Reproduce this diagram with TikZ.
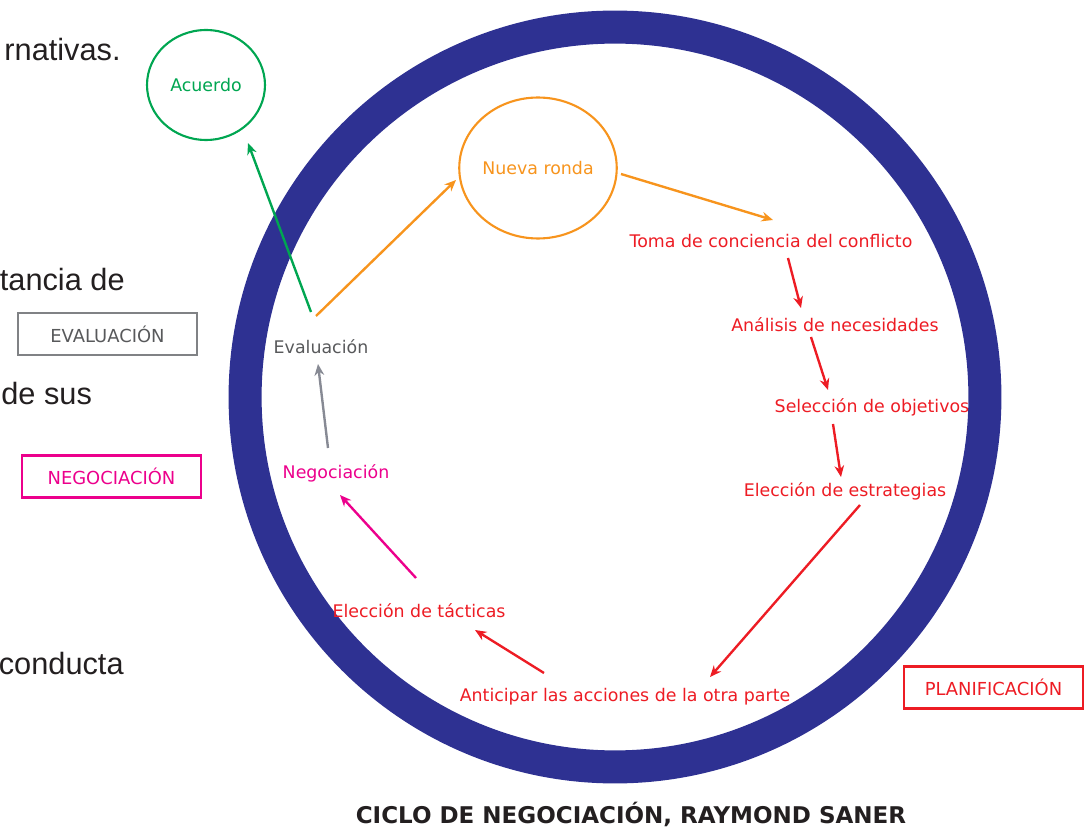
\documentclass[tikz,border=0pt]{standalone}
\usepackage{fontspec}
\setmainfont{DejaVu Sans}
\newfontfamily\slidefont{Liberation Sans}
\usepackage{tikz}
\usetikzlibrary{arrows.meta, calc, shapes.geometric}
\definecolor{ringblue}{HTML}{2E3192}
\definecolor{rondaorange}{HTML}{F7941D}
\definecolor{acuerdogreen}{HTML}{00A651}
\definecolor{planred}{HTML}{ED1C24}
\definecolor{negomagenta}{HTML}{EC008C}
\definecolor{evalgray}{HTML}{58595B}
\definecolor{arrowgray}{HTML}{878A94}
\definecolor{boxgray}{HTML}{808285}
\definecolor{darktext}{HTML}{231F20}
\tikzstyle{stage}    = [inner sep=0pt, font=\fontsize{9.9}{12}\selectfont]
\tikzstyle{roundel}  = [ellipse, draw, line width=1.2pt, inner sep=0pt, font=\fontsize{9.9}{12}\selectfont]
\tikzstyle{phasebox} = [rectangle, draw, line width=1.2pt, minimum width=3.58cm, minimum height=0.84cm, font=\fontsize{10.2}{12}\selectfont]
\tikzstyle{slidetext} = [inner sep=0pt, anchor=east, text=darktext, font=\slidefont\fontsize{17.5}{20}\selectfont]
\tikzstyle{arrow}    = [line width=1.35pt, -{Stealth[length=6.5pt, width=5.5pt]}]

\begin{document}
\begin{tikzpicture}[x=0.02cm, y=-0.02cm]
\useasboundingbox (0,0) rectangle (1086,827);
\clip (0,0) rectangle (1086,827);

% text of the slide behind the picture
\node (txta) [slidetext] at (121,50) {rnativas.};
\node (txtb) [slidetext] at (125,280) {tancia de};
\node (txtc) [slidetext, anchor=west] at (1,394) {de sus};
\node (txtd) [slidetext] at (124,664) {conducta};

% ring
\draw [ringblue, line width=18.8pt] (615,397) circle (7.4cm);

\node (acuerdo) [roundel, draw=acuerdogreen, text=acuerdogreen, minimum width=2.36cm, minimum height=2.2cm] at (206,85) {Acuerdo};
\node (nueva) [roundel, draw=rondaorange, text=rondaorange, minimum width=3.06cm, minimum height=2.82cm] at (538,168) {Nueva ronda};

\node (toma) [stage, text=planred] at (771,241) {Toma de conciencia del conflicto};
\node (analisis) [stage, text=planred] at (835,325) {Análisis de necesidades};
\node (seleccion) [stage, text=planred] at (872,407) {Selección de objetivos};
\node (estrategias) [stage, text=planred] at (845,491) {Elección de estrategias};
\node (anticipar) [stage, text=planred] at (625,697) {Anticipar las acciones de la otra parte};
\node (tacticas) [stage, text=planred] at (419,611) {Elección de tácticas};
\node (negociacion) [stage, text=negomagenta] at (336,473) {Negociación};
\node (evaluacion) [stage, text=evalgray] at (321,347) {Evaluación};

\node (evalbox) [phasebox, draw=boxgray, text=evalgray] at (107.5,334) {EVALUACIÓN};
\node (negobox) [phasebox, draw=negomagenta, text=negomagenta] at (111.5,476.5) {NEGOCIACIÓN};
\node (planbox) [phasebox, draw=planred, text=planred] at (993.5,687.5) {PLANIFICACIÓN};

\node (titulo) [inner sep=0pt, text=darktext, font=\bfseries\fontsize{13.1}{15}\selectfont] at (631,814) {CICLO DE NEGOCIACIÓN, RAYMOND SANER};

\draw [arrow, acuerdogreen] ($(evaluacion)+(-10,-35)$) -- ($(acuerdo)+(42,58)$);
\draw [arrow, rondaorange] ($(evaluacion)+(-5,-31)$) -- ($(nueva)+(-82,12)$);
\draw [arrow, rondaorange] ($(nueva)+(83,6)$) -- ($(toma)+(2,-21)$);
\draw [arrow, planred] ($(toma)+(17,17)$) -- ($(analisis)+(-34,-17)$);
\draw [arrow, planred] ($(analisis)+(-24,12)$) -- ($(seleccion)+(-44,-17)$);
\draw [arrow, planred] ($(seleccion)+(-39,17)$) -- ($(estrategias)+(-4,-14)$);
\draw [arrow, planred] ($(estrategias)+(15,14)$) -- ($(anticipar)+(85,-20)$);
\draw [arrow, planred] ($(anticipar)+(-81,-24)$) -- ($(tacticas)+(56,19)$);
\draw [arrow, negomagenta] ($(tacticas)+(-3,-33)$) -- ($(negociacion)+(4,22)$);
\draw [arrow, arrowgray] ($(negociacion)+(-8,-25)$) -- ($(evaluacion)+(-3,17)$);
\end{tikzpicture}
\end{document}
